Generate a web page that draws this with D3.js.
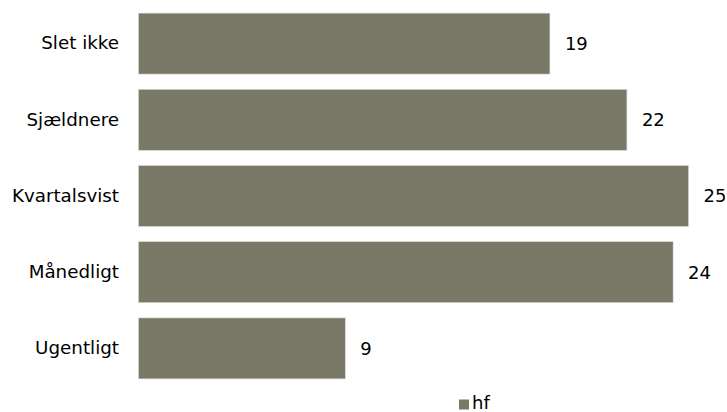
<!DOCTYPE html>
<html><head><meta charset="utf-8">
<script src="https://cdn.jsdelivr.net/npm/d3@7"></script>
<style>body{margin:0;background:#fff}svg{display:block}text{font-family:"DejaVu Sans",Verdana,sans-serif;fill:#000}</style>
</head><body><svg id="c" width="727" height="412"></svg>
<script>
const categories = ["Slet ikke","Sjældnere","Kvartalsvist","Månedligt","Ugentligt"];
const values = [18.7, 22.2, 25.0, 24.3, 9.4];
const seriesName = "hf";
const barColor = "#7a7866";

const svg = d3.select("#c");
const x = d3.scaleLinear().domain([0, 25]).range([138.5, 688.5]);
const y = d3.scaleBand().domain(categories).range([5.5, 386.5]).paddingInner(0.2).paddingOuter(0.1);

svg.selectAll("rect.bar").data(categories).join("rect").attr("class","bar")
  .attr("x", x(0)).attr("y", d => y(d))
  .attr("width", (d,i) => x(values[i]) - x(0)).attr("height", y.bandwidth())
  .attr("fill", barColor).attr("stroke","#d8d8d0").attr("stroke-width",0.6);

const yAxis = svg.append("g").attr("transform", `translate(${x(0)},0)`)
  .call(d3.axisLeft(y).tickSize(0).tickPadding(19.5));
yAxis.select(".domain").remove();
yAxis.selectAll("text").style("font-size","18.3px").style("font-family",'"DejaVu Sans",Verdana,sans-serif').attr("fill","#000");

svg.selectAll("text.val").data(categories).join("text").attr("class","val")
  .attr("x", (d,i) => x(values[i]) + 15).attr("y", d => y(d) + y.bandwidth()/2)
  .attr("dy","0.35em").style("font-size","18px")
  .text((d,i) => d3.format(".0f")(values[i]));

const lg = svg.append("g");
lg.append("rect").attr("x",459).attr("y",399.5).attr("width",10).attr("height",10).attr("fill",barColor);
lg.append("text").attr("x",472).attr("y",403).attr("dy","0.35em").style("font-size","18px").text(seriesName);
</script></body></html>
